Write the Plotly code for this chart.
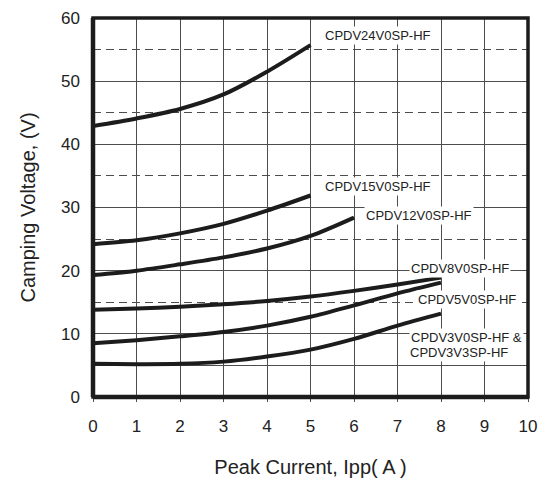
import plotly.graph_objects as go

# ---- data ----
x_24 = [0, 1, 2, 3, 4, 5]
v_24 = [42.9, 44.1, 45.6, 47.9, 51.5, 55.7]

x_15 = [0, 1, 2, 3, 4, 5]
v_15 = [24.2, 24.8, 25.9, 27.4, 29.5, 31.9]

x_12 = [0, 1, 2, 3, 4, 5, 6]
v_12 = [19.3, 20.0, 21.0, 22.1, 23.5, 25.5, 28.4]

x_8 = [0, 1, 2, 3, 4, 5, 6, 7, 8]
v_8 = [13.8, 14.0, 14.3, 14.7, 15.2, 15.9, 16.8, 17.8, 18.9]

x_5 = [0, 1, 2, 3, 4, 5, 6, 7, 8]
v_5 = [8.5, 9.0, 9.6, 10.3, 11.3, 12.7, 14.5, 16.4, 18.1]

x_3 = [0, 1, 2, 3, 4, 5, 6, 7, 8]
v_3 = [5.25, 5.2, 5.25, 5.6, 6.4, 7.5, 9.2, 11.3, 13.2]

series = [(x_24, v_24), (x_15, v_15), (x_12, v_12), (x_8, v_8), (x_5, v_5), (x_3, v_3)]

# labels: (text, x, y)
labels = [
    ("CPDV24V0SP-HF", 5.28, 57.2),
    ("CPDV15V0SP-HF", 5.28, 33.4),
    ("CPDV12V0SP-HF", 6.22, 28.7),
    ("CPDV8V0SP-HF", 7.26, 20.4),
    ("CPDV5V0SP-HF", 7.42, 15.5),
    ("CPDV3V0SP-HF &", 7.26, 9.45),
    ("CPDV3V3SP-HF", 7.24, 7.1),
]

x_tickvals = [0, 1, 2, 3, 4, 5, 6, 7, 8, 9, 10]
x_ticktext = ["0", "1", "2", "3", "4", "5", "6", "7", "8", "9", "10"]
y_tickvals = [0, 5, 10, 20, 30, 40, 50, 60]
y_ticktext = ["0", "", "10", "20", "30", "40", "50", "60"]
y_dashed = [15, 25, 35, 45, 55]

FONT = "Liberation Sans, Arial, sans-serif"
INK = "#1c1c1c"
GRID = "#4d4d4d"

fig = go.Figure()
for xs, vs in series:
    fig.add_trace(go.Scatter(
        x=xs, y=vs, mode="lines",
        line=dict(color=INK, width=4, shape="spline", smoothing=0.9),
        showlegend=False, hoverinfo="skip"))

for text, lx, ly in labels:
    fig.add_annotation(
        x=lx, y=ly, xref="x", yref="y", text=text, showarrow=False,
        xanchor="left", yanchor="middle",
        font=dict(family=FONT, size=13, color="#222"),
        bgcolor="white", borderpad=1)

# frame
fig.add_shape(type="rect", xref="paper", yref="paper", x0=0, x1=1, y0=0, y1=1,
              line=dict(color=INK, width=3.5), layer="above")
fig.add_shape(type="line", xref="paper", yref="paper", x0=0, x1=0, y0=0, y1=1,
              line=dict(color=INK, width=4.5), layer="above")
fig.add_shape(type="line", xref="paper", yref="paper", x0=0, x1=1, y0=0, y1=0,
              line=dict(color=INK, width=4.5), layer="above")

fig.update_layout(
    width=548, height=486,
    margin=dict(l=93, r=20, t=9, b=89),
    paper_bgcolor="white", plot_bgcolor="white",
    font=dict(family=FONT, color="#222"),
    xaxis=dict(
        range=[0, 10], tickmode="array", tickvals=x_tickvals, ticktext=x_ticktext,
        showgrid=True, gridcolor=GRID, gridwidth=1, zeroline=False,
        ticks="outside", ticklen=4, tickcolor=GRID, tickwidth=1,
        ticklabelstandoff=10, ticklabeloverflow="allow",
        tickfont=dict(size=17, color="#222"),
        title=dict(text="Peak Current, Ipp( A )", font=dict(size=20, color="#222"), standoff=24),
    ),
    yaxis=dict(
        range=[0, 60], tickmode="array", tickvals=y_tickvals, ticktext=y_ticktext,
        showgrid=True, gridcolor=GRID, gridwidth=1, zeroline=False,
        ticks="", ticklabelstandoff=12, ticklabeloverflow="allow",
        tickfont=dict(size=17, color="#222"),
        minor=dict(tickmode="array", tickvals=y_dashed, showgrid=True,
                   gridcolor=GRID, gridwidth=1, griddash="8px,5px", ticks=""),
        title=dict(text="Camping Voltage, (V)", font=dict(size=20, color="#222"), standoff=20),
    ),
)

fig.write_html("out.html", config={"displayModeBar": False},
               post_script="document.body.style.margin='0';document.body.style.overflow='hidden';")
